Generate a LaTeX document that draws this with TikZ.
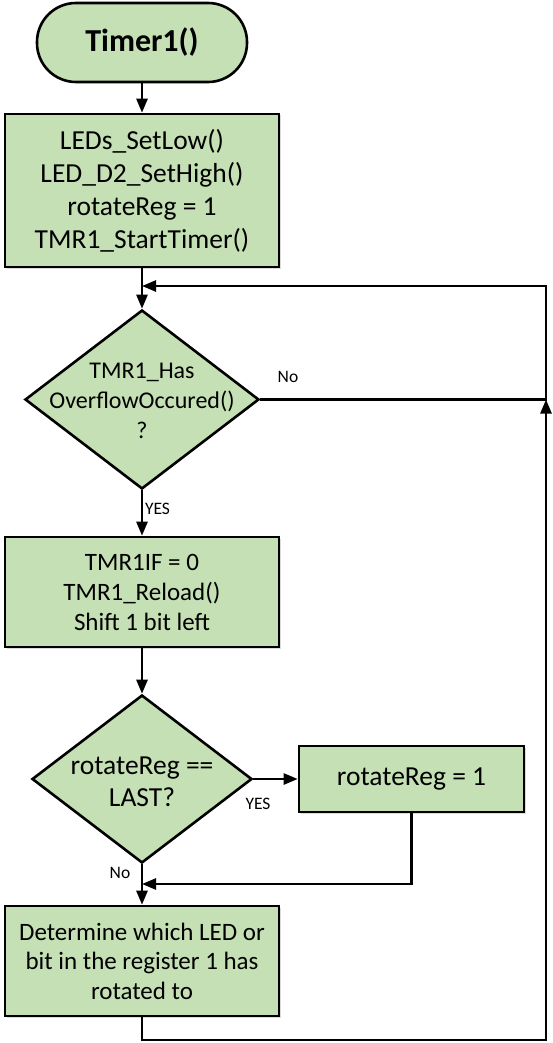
\documentclass[tikz,border=0pt]{standalone}
\usepackage{fontspec}
\setmainfont{Carlito}
\usetikzlibrary{shapes.geometric,arrows.meta,shadows}
\definecolor{boxgreen}{HTML}{C5E0B4}
\begin{document}
\begin{tikzpicture}[x=1pt,y=-1pt,
  proc/.style={draw, line width=2.6pt, fill=boxgreen, align=center, inner sep=0pt,
    drop shadow={shadow xshift=1.5pt,shadow yshift=-1.5pt,opacity=0.2,fill=black!70}},
  term/.style={draw, line width=2.6pt, fill=boxgreen, inner sep=0pt, rounded corners=39pt,
    minimum width=210pt, minimum height=79pt, font=\bfseries\fontsize{32}{38}\selectfont},
  dec/.style={draw, line width=2.6pt, fill=boxgreen, diamond, inner sep=0pt},
  dtext/.style={align=center, inner sep=0pt},
  lbl/.style={inner sep=0pt, font=\fontsize{17.5}{20}\selectfont},
  conn/.style={line width=2.5pt},
  arr/.style={line width=2.5pt, -{Triangle[length=14pt,width=11pt]}}]
\useasboundingbox (0,0) rectangle (553,1043);

\node[term] (t) at (142,42.5) {Timer1()};
\node[proc, minimum width=274pt, minimum height=153pt,
      font=\fontsize{27.5}{33}\selectfont] (b1) at (142,190.5)
  {LEDs\_SetLow()\\LED\_D2\_SetHigh()\\rotateReg = 1\\TMR1\_StartTimer()};
\node[dec, minimum width=234pt, minimum height=179pt] (d1) at (142,399.5) {};
\node[dtext, font=\fontsize{24}{30}\selectfont] (d1t) at (142,401)
  {TMR1\_Has\\OverflowOccured()\\?};
\node[proc, minimum width=274pt, minimum height=110pt,
      font=\fontsize{25}{30}\selectfont] (b2) at (142,592)
  {TMR1IF = 0\\TMR1\_Reload()\\Shift 1 bit left};
\node[dec, minimum width=220pt, minimum height=168pt] (d2) at (142,779) {};
\node[dtext, font=\fontsize{27.5}{32}\selectfont] (d2t) at (142,782)
  {rotateReg ==\\LAST?};
\node[proc, minimum width=225pt, minimum height=66pt,
      font=\fontsize{27.5}{33}\selectfont] (b3) at (411.5,779) {rotateReg = 1};
\node[proc, minimum width=274pt, minimum height=110pt,
      font=\fontsize{25}{29.5}\selectfont] (b4) at (142,961)
  {Determine which LED or\\bit in the register 1 has\\rotated to};

\coordinate (j1) at (142,286);
\coordinate (r1) at (546,399.5);
\coordinate (j2) at (142,884);
\coordinate (bl) at (546,1040);

\draw[arr] (t) -- (b1);
\draw[arr] (b1) -- (d1);
\draw[arr] (d1.east) -- (r1) |- (j1);
\draw[arr] (d1) -- (b2);
\draw[arr] (b2) -- (d2);
\draw[arr] (d2.east) -- (b3.west);
\draw[arr] (b3.south) |- (j2);
\draw[arr] (d2) -- (b4);
\draw[arr] (b4.south) |- (bl) -- (r1);

\node[lbl] (lno1) at (288,377) {No};
\node[lbl] (lyes1) at (157.5,509) {YES};
\node[lbl] (lyes2) at (258,804) {YES};
\node[lbl] (lno2) at (120,873) {No};
\end{tikzpicture}
\end{document}
